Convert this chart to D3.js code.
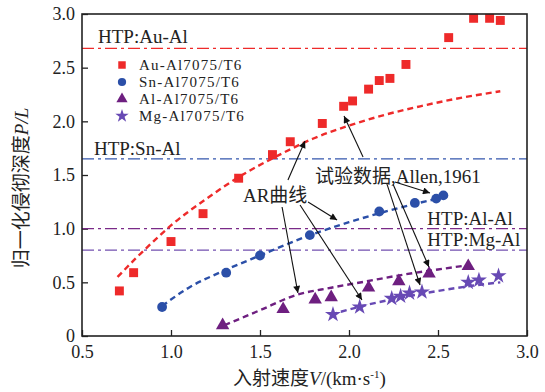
<!DOCTYPE html>
<html>
<head>
<meta charset="utf-8">
<script src="https://cdn.jsdelivr.net/npm/d3@7"></script>
<style>
  body { margin: 0; background: #fff; }
  svg text { font-family: "Liberation Serif", "Times New Roman", "Noto Sans CJK SC", serif; fill: #222; }
</style>
</head>
<body>
<div id="chart"></div>
<script>
// setup dimensions
const margin = { top: 14, right: 18, bottom: 56, left: 82 };
const width = 545;
const height = 392;
const chartWidth = width - margin.left - margin.right;
const chartHeight = height - margin.top - margin.bottom;

// tick values
const xTicks = [0.5, 1.0, 1.5, 2.0, 2.5, 3.0];
const yTicks = [0, 0.5, 1.0, 1.5, 2.0, 2.5, 3.0];

// test data (Allen, 1961)
const auV = [0.71, 0.79, 1.0, 1.18, 1.38, 1.57, 1.67, 1.85, 1.97, 2.02, 2.11, 2.17, 2.23, 2.32, 2.56, 2.70, 2.79, 2.85];
const auP = [0.42, 0.59, 0.88, 1.14, 1.47, 1.69, 1.81, 1.98, 2.14, 2.19, 2.30, 2.38, 2.40, 2.53, 2.78, 2.96, 2.96, 2.94];
const snV = [0.95, 1.31, 1.50, 1.78, 2.17, 2.37, 2.49, 2.53];
const snP = [0.27, 0.59, 0.75, 0.94, 1.16, 1.24, 1.28, 1.31];
const alV = [1.29, 1.63, 1.81, 1.90, 2.11, 2.28, 2.45, 2.67];
const alP = [0.10, 0.25, 0.34, 0.36, 0.45, 0.51, 0.58, 0.65];
const mgV = [1.91, 2.06, 2.24, 2.29, 2.34, 2.41, 2.67, 2.73, 2.84];
const mgP = [0.20, 0.27, 0.35, 0.37, 0.40, 0.41, 0.50, 0.52, 0.56];

// AR curves (dashed)
const auCurveV = [0.70, 0.80, 0.90, 1.00, 1.20, 1.40, 1.60, 1.80, 2.00, 2.20, 2.40, 2.60, 2.85];
const auCurveP = [0.55, 0.72, 0.88, 1.03, 1.28, 1.50, 1.68, 1.84, 1.96, 2.06, 2.14, 2.21, 2.28];
const snCurveV = [0.95, 1.10, 1.30, 1.50, 1.75, 2.00, 2.25, 2.55];
const snCurveP = [0.28, 0.45, 0.61, 0.75, 0.92, 1.06, 1.18, 1.30];
const alCurveV = [1.30, 1.50, 1.70, 1.90, 2.10, 2.30, 2.50, 2.67];
const alCurveP = [0.10, 0.24, 0.38, 0.45, 0.51, 0.57, 0.62, 0.66];
const mgCurveV = [1.90, 2.10, 2.30, 2.50, 2.70, 2.85];
const mgCurveP = [0.20, 0.29, 0.36, 0.42, 0.47, 0.50];

// HTP levels
const htpNames = ["HTP:Au-Al", "HTP:Sn-Al", "HTP:Al-Al", "HTP:Mg-Al"];
const htpValues = [2.68, 1.65, 1.0, 0.8];

const legendNames = ["Au-Al7075/T6", "Sn-Al7075/T6", "Al-Al7075/T6", "Mg-Al7075/T6"];

const zip = (a, b) => a.map((v, i) => [v, b[i]]);

const series = [
  { pts: zip(auV, auP), curve: zip(auCurveV, auCurveP), color: "#ee2a2a", sym: d3.symbolSquare, size: 80 },
  { pts: zip(snV, snP), curve: zip(snCurveV, snCurveP), color: "#2b4fa8", sym: d3.symbolCircle, size: 76 },
  { pts: zip(alV, alP), curve: zip(alCurveV, alCurveP), color: "#6e1f80", sym: d3.symbolTriangle, size: 78 },
  { pts: zip(mgV, mgP), curve: zip(mgCurveV, mgCurveP), color: "#6749b4", sym: d3.symbolStar, size: 80 }
];
const htpColors = ["#ee2a2a", "#3557ad", "#7a2a88", "#7350b0"];

const svg = d3.select("#chart").append("svg")
  .attr("width", width).attr("height", height)
  .attr("font-family", "'Liberation Serif', 'Times New Roman', 'Noto Sans CJK SC', serif");

svg.append("defs").append("marker")
  .attr("id", "arrow")
  .attr("viewBox", "0 0 10 10")
  .attr("refX", 10).attr("refY", 5)
  .attr("markerWidth", 9).attr("markerHeight", 7)
  .attr("markerUnits", "userSpaceOnUse")
  .attr("orient", "auto")
  .append("path").attr("d", "M0,0L10,5L0,10z").attr("fill", "#111");

const g = svg.append("g").attr("transform", `translate(${margin.left},${margin.top})`);

const x = d3.scaleLinear().domain([0.5, 3.0]).range([0, chartWidth]);
const y = d3.scaleLinear().domain([0, 3.0]).range([chartHeight, 0]);

// axes with inward ticks
const xAxisG = g.append("g").attr("transform", `translate(0,${chartHeight})`)
  .call(d3.axisBottom(x).tickValues(xTicks).tickSizeInner(-6).tickSizeOuter(0).tickPadding(9)
    .tickFormat(d3.format(".1f")));
const yAxisG = g.append("g")
  .call(d3.axisLeft(y).tickValues(yTicks).tickSizeInner(-6).tickSizeOuter(0).tickPadding(7)
    .tickFormat(d => d === 0 ? "0" : d3.format(".1f")(d)));
[xAxisG, yAxisG].forEach(a => {
  a.attr("font-family", null);
  a.select(".domain").remove();
  a.selectAll("line").attr("stroke", "#222").attr("stroke-width", 1.3);
  a.selectAll("text").style("font-size", "18px").attr("fill", "#222");
});

// HTP lines
htpValues.forEach((v, i) => {
  g.append("line")
    .attr("x1", 0).attr("x2", chartWidth)
    .attr("y1", y(v)).attr("y2", y(v))
    .attr("stroke", htpColors[i]).attr("stroke-width", 1.4)
    .attr("stroke-dasharray", "12 4 3 4");
});
const htpLabelPos = [[0.59, 2.73], [0.567, 1.69], [2.44, 1.035], [2.44, 0.84]];
htpNames.forEach((n, i) => {
  g.append("text")
    .attr("x", x(htpLabelPos[i][0])).attr("y", y(htpLabelPos[i][1]))
    .style("font-size", "19px").text(n);
});

// AR curves
const line = d3.line().x(d => x(d[0])).y(d => y(d[1])).curve(d3.curveMonotoneX);
series.forEach(s => {
  g.append("path").datum(s.curve)
    .attr("d", line).attr("fill", "none")
    .attr("stroke", s.color).attr("stroke-width", 2.4)
    .attr("stroke-dasharray", "6 4");
});

// markers
series.forEach(s => {
  g.selectAll(null).data(s.pts).join("path")
    .attr("transform", d => `translate(${x(d[0])},${y(d[1])})`)
    .attr("d", d3.symbol(s.sym, s.size))
    .attr("fill", s.color);
});

// legend
legendNames.forEach((n, i) => {
  const ly = 65 + i * 17;
  svg.append("path")
    .attr("transform", `translate(122,${ly})`)
    .attr("d", d3.symbol(series[i].sym, series[i].size * 0.7))
    .attr("fill", series[i].color);
  svg.append("text").attr("x", 139).attr("y", ly + 5)
    .style("font-size", "15px").style("letter-spacing", "1.2px").text(n);
});

// annotations
g.append("text").attr("x", x(1.404)).attr("y", y(1.249))
  .style("font-size", "19px").text("AR曲线");
g.append("text").attr("x", x(1.809)).attr("y", y(1.426))
  .style("font-size", "19px").text("试验数据,Allen,1961");

const arrows = [
  [1.657, 1.454, 1.753, 1.817],
  [1.770, 1.249, 1.933, 1.081],
  [1.624, 1.202, 1.713, 0.401],
  [1.725, 1.221, 2.073, 0.336],
  [2.079, 1.668, 1.972, 2.050],
  [2.258, 1.435, 2.455, 1.333],
  [2.247, 1.417, 2.449, 0.643],
  [2.213, 1.417, 2.399, 0.475]
];
arrows.forEach(a => {
  g.append("line")
    .attr("x1", x(a[0])).attr("y1", y(a[1]))
    .attr("x2", x(a[2])).attr("y2", y(a[3]))
    .attr("stroke", "#111").attr("stroke-width", 1.1)
    .attr("marker-end", "url(#arrow)");
});

// frame
g.append("rect").attr("width", chartWidth).attr("height", chartHeight)
  .attr("fill", "none").attr("stroke", "#222").attr("stroke-width", 1.6);

// axis titles
const xt = svg.append("text").attr("x", 233).attr("y", 385).style("font-size", "19px");
xt.append("tspan").text("入射速度");
xt.append("tspan").style("font-style", "italic").text("V");
xt.append("tspan").text("/(km·s");
xt.append("tspan").attr("dy", -7).style("font-size", "11px").text("-1");
xt.append("tspan").attr("dy", 7).text(")");

const yt = svg.append("text")
  .attr("transform", "translate(28,188) rotate(-90)")
  .attr("text-anchor", "middle").style("font-size", "19px");
yt.append("tspan").text("归一化侵彻深度");
yt.append("tspan").style("font-style", "italic").text("P/L");
</script>
</body>
</html>
